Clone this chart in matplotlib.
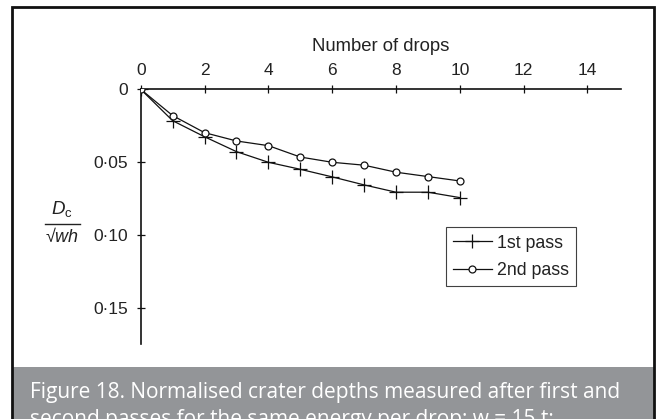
import matplotlib
matplotlib.use("Agg")
import matplotlib.pyplot as plt
from matplotlib.lines import Line2D
from matplotlib.patches import Rectangle

# normalised crater depth D_c / sqrt(wh) after each drop
drops = [0, 1, 2, 3, 4, 5, 6, 7, 8, 9, 10]
first_pass = [0, 0.0215, 0.0325, 0.0427, 0.0500, 0.0548, 0.0600, 0.0655, 0.0705, 0.0705, 0.0742]
second_pass = [0, 0.0180, 0.0297, 0.0354, 0.0386, 0.0464, 0.0500, 0.0520, 0.0568, 0.0598, 0.0628]

x_ticks = [0, 2, 4, 6, 8, 10, 12, 14]
y_ticks = [0, 0.05, 0.10, 0.15]
y_tick_labels = ["0", "0·05", "0·10", "0·15"]

W, H = 659, 419
plt.rcParams["font.family"] = ["Liberation Sans", "DejaVu Sans"]
plt.rcParams["mathtext.fontset"] = "custom"
plt.rcParams["mathtext.rm"] = "Liberation Sans"
plt.rcParams["mathtext.it"] = "Liberation Sans:italic"

fig = plt.figure(figsize=(W / 100, H / 100), dpi=100)


def fx(px):
    return px / W


def fy(py):
    # pixel rows are counted from the top
    return 1 - py / H


# grey caption band and the outer frame
fig.patches.append(Rectangle((fx(12), fy(H + 5)), fx(642), fy(367.5) - fy(H + 5),
                             transform=fig.transFigure, facecolor="#939598",
                             edgecolor="none", zorder=0))
fig.patches.append(Rectangle((fx(11.5), fy(H + 5)), fx(642.5), fy(7.5) - fy(H + 5),
                             transform=fig.transFigure, facecolor="none",
                             edgecolor="#111111", lw=2.0, zorder=1))

left, right, top, bottom = 140.7, 621.0, 89.3, 344.0
ax = fig.add_axes([fx(left), fy(bottom), fx(right - left), fy(top) - fy(bottom)])
ax.set_facecolor("none")

ax.plot(drops, first_pass, color="#111111", lw=0.9, marker="+", ms=9.5, mew=0.9,
        label="1st pass", zorder=3)
ax.plot(drops, second_pass, color="#111111", lw=0.9, marker="o", ms=5, mew=0.9,
        mfc="white", label="2nd pass", zorder=3)

ax.set_xlim(0, 15.05)
ax.set_ylim(0.1745, 0)

for side in ("right", "bottom"):
    ax.spines[side].set_visible(False)
for side in ("top", "left"):
    ax.spines[side].set_linewidth(1.2)
    ax.spines[side].set_color("#111111")

ax.xaxis.tick_top()
ax.xaxis.set_label_position("top")
ax.set_xticks(x_ticks)
ax.set_yticks(y_ticks)
ax.set_yticklabels(y_tick_labels)
ax.tick_params(axis="both", direction="inout", length=6, width=0.9, color="#111111",
               labelsize=12.5, labelcolor="#222222")
ax.tick_params(axis="x", pad=5)
ax.tick_params(axis="y", pad=6)
ax.set_xlabel("Number of drops", fontsize=13.3, color="#222222", labelpad=9)

leg = ax.legend(loc="upper left", bbox_to_anchor=((445.7 - left) / (right - left),
                1 - (227.5 - top) / (bottom - top)),
                fontsize=12.8, frameon=True, fancybox=False, handlelength=2.2,
                handletextpad=0.3, borderpad=0.4, labelspacing=0.6,
                borderaxespad=0)
leg.get_frame().set_edgecolor("#111111")
leg.get_frame().set_linewidth(0.8)
for t in leg.get_texts():
    t.set_color("#222222")

# y-axis quantity written as a stacked fraction
fig.text(fx(62), fy(209), r"$D_{\mathrm{c}}$", fontsize=13.5, ha="center", va="center",
         color="#222222")
fig.add_artist(Line2D([fx(45), fx(80)], [fy(224), fy(224)], transform=fig.transFigure,
                      color="#222222", lw=1.0))
fig.text(fx(62), fy(236), "√$wh$", fontsize=13, ha="center", va="center",
         color="#222222")

fig.text(fx(30), fy(398), "Figure 18. Normalised crater depths measured after first and",
         fontsize=15, family=["Open Sans", "DejaVu Sans"], color="white", va="baseline")
fig.text(fx(30), fy(425), "second passes for the same energy per drop: w = 15 t;",
         fontsize=15, family=["Open Sans", "DejaVu Sans"], color="white", va="baseline")

fig.savefig("out.png", dpi=100)
